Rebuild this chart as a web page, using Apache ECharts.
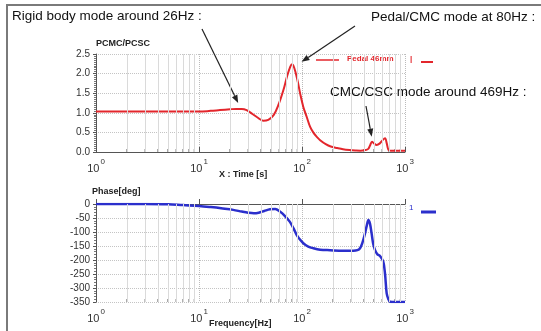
<!DOCTYPE html>
<html>
<head>
<meta charset="utf-8">
<script src="https://cdn.jsdelivr.net/npm/echarts@6/dist/echarts.min.js"></script>
<style>
  html, body { margin: 0; padding: 0; background: #fff; }
  #chart { width: 541px; height: 331px; }
</style>
</head>
<body>
<div id="chart"></div>
<script>
// Frequency response of the pedal assembly: magnitude ratio and phase
const magFreq = [1, 2, 3, 5, 7, 10, 13, 16, 20, 23, 26, 29, 33, 37, 42, 47, 53, 59, 66, 72, 77, 80, 84, 90, 96, 103, 111, 120, 130, 140, 150, 170, 190, 220, 250, 290, 330, 370, 410, 440, 460, 478, 500, 530, 570, 610, 640, 665, 690, 730, 800, 900, 1000];
const magValues = [1.03, 1.03, 1.03, 1.03, 1.03, 1.03, 1.05, 1.07, 1.09, 1.10, 1.10, 1.07, 0.97, 0.88, 0.80, 0.82, 0.94, 1.20, 1.58, 1.95, 2.18, 2.24, 2.15, 1.85, 1.49, 1.15, 0.90, 0.64, 0.48, 0.38, 0.30, 0.20, 0.14, 0.10, 0.07, 0.05, 0.04, 0.035, 0.05, 0.08, 0.18, 0.26, 0.22, 0.18, 0.22, 0.31, 0.35, 0.22, 0.06, 0.03, 0.03, 0.03, 0.03];

const phaseFreq = [1, 2, 3, 5, 7, 10, 13, 17, 21.5, 26, 30, 34, 38, 43, 49, 55, 61, 68, 76, 83, 89, 96, 103, 115, 129, 150, 187, 250, 315, 345, 366, 385, 409, 425, 441, 457, 474, 490, 511, 540, 572, 615, 640, 664, 690, 715, 800, 1000];
const phaseValues = [0, 0, 0, -1, -4, -7, -11, -16, -21, -27, -31, -33, -31, -25, -19, -18, -27, -42, -63, -88, -111, -128, -140, -152, -158, -163, -165, -167, -167, -165, -158, -140, -105, -78, -57, -70, -105, -140, -164, -180, -186, -206, -250, -319, -340, -349, -350, -350];

// log-axis minor positions (2..9 in each decade)
const minorFreqs = [2, 3, 4, 5, 6, 7, 8, 9, 20, 30, 40, 50, 60, 70, 80, 90, 200, 300, 400, 500, 600, 700, 800, 900];

const magTickLabels = ['0.0', '0.5', '1.0', '1.5', '2.0', '2.5'];
const phaseTickLabels = ['0', '-50', '-100', '-150', '-200', '-250', '-300', '-350'];

const FONT = 'Liberation Sans, Arial, sans-serif';
const RED = '#e3262c';
const BLUE = '#2b2fcc';

const chart = echarts.init(document.getElementById('chart'), null, { renderer: 'canvas' });

function zip(xs, ys) { return xs.map((x, i) => [x, ys[i]]); }

function decadeLabel(v) {
  const e = Math.round(Math.log10(v));
  return '{b|10}{s|' + e + '}';
}

const xAxisCommon = {
  type: 'log',
  logBase: 10,
  min: 1,
  max: 1000,
  axisLine: { show: true, lineStyle: { color: '#555', width: 1 } },
  axisTick: { show: true, inside: true, length: 5, lineStyle: { color: '#555' } },
  splitLine: { show: true, lineStyle: { color: '#bbb', type: 'dotted', width: 1 } },
  axisLabel: {
    formatter: decadeLabel,
    margin: 6,
    rich: {
      b: { fontSize: 11, fontFamily: FONT, color: '#333', lineHeight: 16, verticalAlign: 'bottom' },
      s: { fontSize: 8, fontFamily: FONT, color: '#333', lineHeight: 10, verticalAlign: 'top', padding: [0, 0, 0, 1] }
    }
  }
};

function yAxisCommon(name, min, max, interval, minorSplit, labels, nameGap, namePad) {
  return {
    type: 'value',
    min: min,
    max: max,
    interval: interval,
    name: name,
    nameLocation: 'end',
    nameGap: nameGap,
    nameTextStyle: { fontSize: 9, fontWeight: 'bold', fontFamily: FONT, color: '#222', align: 'left', padding: [0, 0, 0, namePad] },
    axisLine: { show: true, lineStyle: { color: '#555', width: 1 } },
    axisTick: { show: true, length: 3, lineStyle: { color: '#555' } },
    minorTick: { show: true, splitNumber: minorSplit, length: 2, lineStyle: { color: '#777' } },
    splitLine: { show: true, lineStyle: { color: '#c4c4c4', type: 'dotted', width: 1 } },
    axisLabel: {
      fontSize: 10,
      fontFamily: FONT,
      color: '#333',
      margin: 6,
      formatter: function (v) {
        const idx = Math.round((v - min) / interval);
        return (min < 0 ? labels[labels.length - 1 - idx] : labels[idx]) || '';
      }
    }
  };
}

const minorGrid = {
  silent: true,
  symbol: 'none',
  label: { show: false },
  lineStyle: { color: '#dadada', type: 'solid', width: 1 },
  data: minorFreqs.map(f => ({ xAxis: f }))
};

chart.setOption({
  animation: false,
  backgroundColor: '#fff',
  grid: [
    { left: 96, top: 54, width: 309, height: 98 },
    { left: 96, top: 204, width: 309, height: 98 }
  ],
  xAxis: [
    Object.assign({ gridIndex: 0 }, xAxisCommon),
    Object.assign({ gridIndex: 1 }, xAxisCommon)
  ],
  yAxis: [
    Object.assign({ gridIndex: 0 }, yAxisCommon('PCMC/PCSC', 0, 2.5, 0.5, 10, magTickLabels, 6, 0)),
    Object.assign({ gridIndex: 1 }, yAxisCommon('Phase[deg]', -350, 0, 50, 5, phaseTickLabels, 8, -4))
  ],
  series: [
    {
      type: 'line',
      xAxisIndex: 0, yAxisIndex: 0,
      data: zip(magFreq, magValues),
      smooth: 0.35,
      showSymbol: false,
      lineStyle: { color: RED, width: 2 },
      markLine: minorGrid,
      z: 3
    },
    {
      type: 'line',
      xAxisIndex: 1, yAxisIndex: 1,
      data: zip(phaseFreq, phaseValues),
      smooth: 0.35,
      showSymbol: false,
      lineStyle: { color: BLUE, width: 2.5 },
      markLine: minorGrid,
      z: 3
    }
  ]
});

// annotations, legend marks, minor x ticks and frame
function px(gridIdx, f, v) {
  return chart.convertToPixel({ xAxisIndex: gridIdx, yAxisIndex: gridIdx }, [f, v]);
}

function arrow(x1, y1, x2, y2) {
  const ang = Math.atan2(y2 - y1, x2 - x1);
  const L = 8, W = 3;
  const bx = x2 - L * Math.cos(ang), by = y2 - L * Math.sin(ang);
  const nx = -Math.sin(ang) * W, ny = Math.cos(ang) * W;
  return [
    { type: 'line', shape: { x1: x1, y1: y1, x2: bx, y2: by }, style: { stroke: '#222', lineWidth: 1.2 }, silent: true },
    { type: 'polygon', shape: { points: [[x2, y2], [bx + nx, by + ny], [bx - nx, by - ny]] }, style: { fill: '#222' }, silent: true }
  ];
}

const g = [];

// frame
g.push({ type: 'polyline', shape: { points: [[7, 331], [7, 5], [541, 5]] }, style: { stroke: '#7a7a7a', lineWidth: 2, fill: null }, silent: true });

// minor ticks along both frequency axes
[0, 1].forEach(gi => {
  const yMin = gi === 0 ? 0 : -350;
  minorFreqs.forEach(f => {
    const p = px(gi, f, yMin);
    g.push({ type: 'line', shape: { x1: p[0], y1: p[1], x2: p[0], y2: p[1] - 3 }, style: { stroke: '#555', lineWidth: 1 }, silent: true });
  });
});

// callout texts
const bigText = { fontSize: 13.5, fontFamily: FONT, fill: '#111', textVerticalAlign: 'middle' };
g.push({ type: 'text', left: 12, top: 9, style: Object.assign({ text: 'Rigid body mode around 26Hz :' }, bigText), silent: true });
g.push({ type: 'text', left: 371, top: 10, style: Object.assign({ text: 'Pedal/CMC mode at 80Hz :' }, bigText), silent: true });
g.push({ type: 'text', left: 330, top: 85, style: Object.assign({ text: 'CMC/CSC mode around 469Hz :' }, bigText), silent: true });

// arrows toward the resonances
const t1 = px(0, 24, 1.25);
const t2 = px(0, 99, 2.3);
const t3 = px(0, 475, 0.39);
g.push.apply(g, arrow(202, 29, t1[0], t1[1]));
g.push.apply(g, arrow(355, 26, t2[0], t2[1]));
g.push.apply(g, arrow(366, 106, t3[0], t3[1]));

// axis titles
const axTitle = { fontSize: 9, fontWeight: 'bold', fontFamily: FONT, fill: '#222' };
g.push({ type: 'text', left: 219, top: 170, style: Object.assign({ text: 'X : Time [s]' }, axTitle), silent: true });
g.push({ type: 'text', left: 209, top: 319, style: Object.assign({ text: 'Frequency[Hz]' }, axTitle), silent: true });

// legend entries
g.push({ type: 'line', shape: { x1: 316, y1: 60, x2: 339, y2: 60 }, style: { stroke: RED, lineWidth: 1.5 }, silent: true });
g.push({ type: 'text', left: 347, top: 55, style: { text: 'Pedal 46mm', fontSize: 8, fontWeight: 'bold', fontFamily: FONT, fill: RED }, silent: true });
g.push({ type: 'text', left: 410, top: 55, style: { text: '|', fontSize: 8, fontWeight: 'bold', fontFamily: FONT, fill: RED }, silent: true });
g.push({ type: 'line', shape: { x1: 421, y1: 62, x2: 433, y2: 62 }, style: { stroke: RED, lineWidth: 2 }, silent: true });
g.push({ type: 'text', left: 409, top: 204, style: { text: '1', fontSize: 8, fontFamily: FONT, fill: BLUE }, silent: true });
g.push({ type: 'line', shape: { x1: 421, y1: 212, x2: 436, y2: 212 }, style: { stroke: BLUE, lineWidth: 3 }, silent: true });

chart.setOption({ graphic: g });
</script>
</body>
</html>
